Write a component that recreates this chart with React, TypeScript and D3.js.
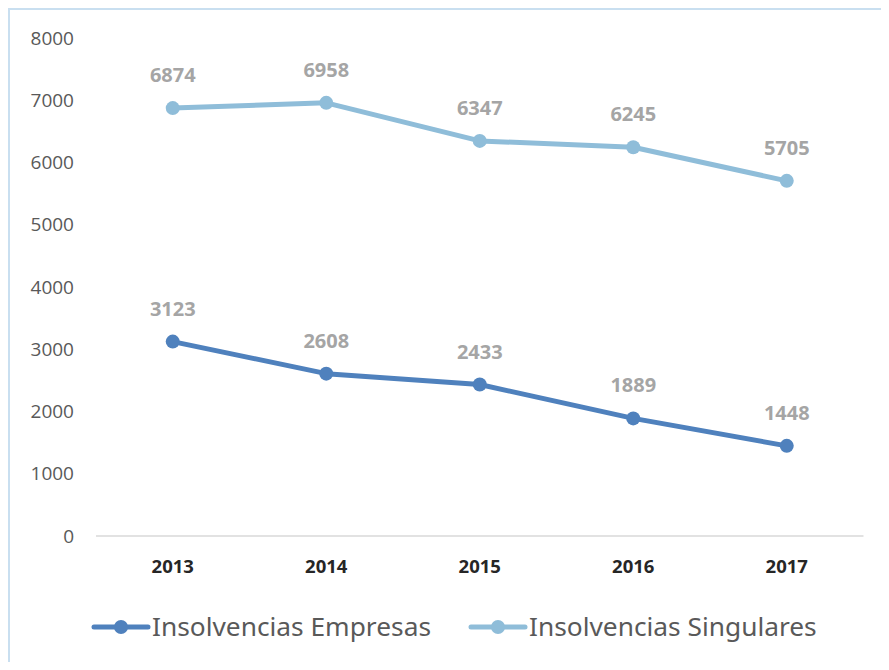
import React from "react";
import * as d3 from "d3";

const years = ["2013", "2014", "2015", "2016", "2017"];
const empresas = [3123, 2608, 2433, 1889, 1448];
const singulares = [6874, 6958, 6347, 6245, 5705];
const yTicks = [0, 1000, 2000, 3000, 4000, 5000, 6000, 7000, 8000];

const series = [
  { name: "Insolvencias Empresas", values: empresas, color: "#4f81bd" },
  { name: "Insolvencias Singulares", values: singulares, color: "#8fbdd9" },
];

// svg sits at page (8,8) because of body margin; keep it inside the window
const W = 873;
const H = 654;

export default function App() {
  const x = d3.scaleBand().domain(years).range([88, 855.5]);
  const y = d3.scaleLinear().domain([0, 8000]).range([528, 30]);
  const cx = (d: string) => (x(d) as number) + x.bandwidth() / 2;

  const line = d3
    .line<number>()
    .x((_, i) => cx(years[i]))
    .y((v) => y(v));

  const legendX = [86, 463];

  return (
    <svg width={W} height={H} style={{ display: "block", overflow: "hidden" }}>
      <rect x={1} y={1} width={W + 20} height={H + 20} fill="#fff" stroke="#c9dff0" strokeWidth={2} />
      {yTicks.map((t) => (
        <text
          key={t}
          x={66}
          y={y(t)}
          dy="0.35em"
          textAnchor="end"
          fontFamily="'Open Sans', 'Noto Sans', sans-serif"
          fontSize={19}
          fill="#595959"
        >
          {t}
        </text>
      ))}
      <line x1={88} x2={855.5} y1={y(0)} y2={y(0)} stroke="#d9d9d9" strokeWidth={1.5} />
      {years.map((yr) => (
        <text
          key={yr}
          x={cx(yr)}
          y={y(0) + 37}
          textAnchor="middle"
          fontFamily="'Open Sans', 'Noto Sans', sans-serif"
          fontWeight="bold"
          fontSize={18.5}
          fill="#262626"
        >
          {yr}
        </text>
      ))}
      {series.map((s) => (
        <g key={s.name}>
          <path d={line(s.values) as string} fill="none" stroke={s.color} strokeWidth={5} strokeLinejoin="round" />
          {s.values.map((v, i) => (
            <circle key={i} cx={cx(years[i])} cy={y(v)} r={7} fill={s.color} />
          ))}
          {s.values.map((v, i) => (
            <text
              key={"l" + i}
              x={cx(years[i])}
              y={y(v) - 26}
              textAnchor="middle"
              fontFamily="'Open Sans', 'Noto Sans', sans-serif"
              fontWeight="bold"
              fontSize={20}
              fill="#a5a5a5"
            >
              {v}
            </text>
          ))}
        </g>
      ))}
      {series.map((s, i) => (
        <g key={"leg" + i} transform={`translate(${legendX[i]},619)`}>
          <line x1={0} x2={54} y1={0} y2={0} stroke={s.color} strokeWidth={5} strokeLinecap="round" />
          <circle cx={27} cy={0} r={7} fill={s.color} />
          <text
            x={58}
            y={0}
            dy="0.35em"
            fontFamily="'Noto Sans', 'Open Sans', sans-serif"
            fontSize={26.3}
            fill="#595959"
          >
            {s.name}
          </text>
        </g>
      ))}
    </svg>
  );
}
